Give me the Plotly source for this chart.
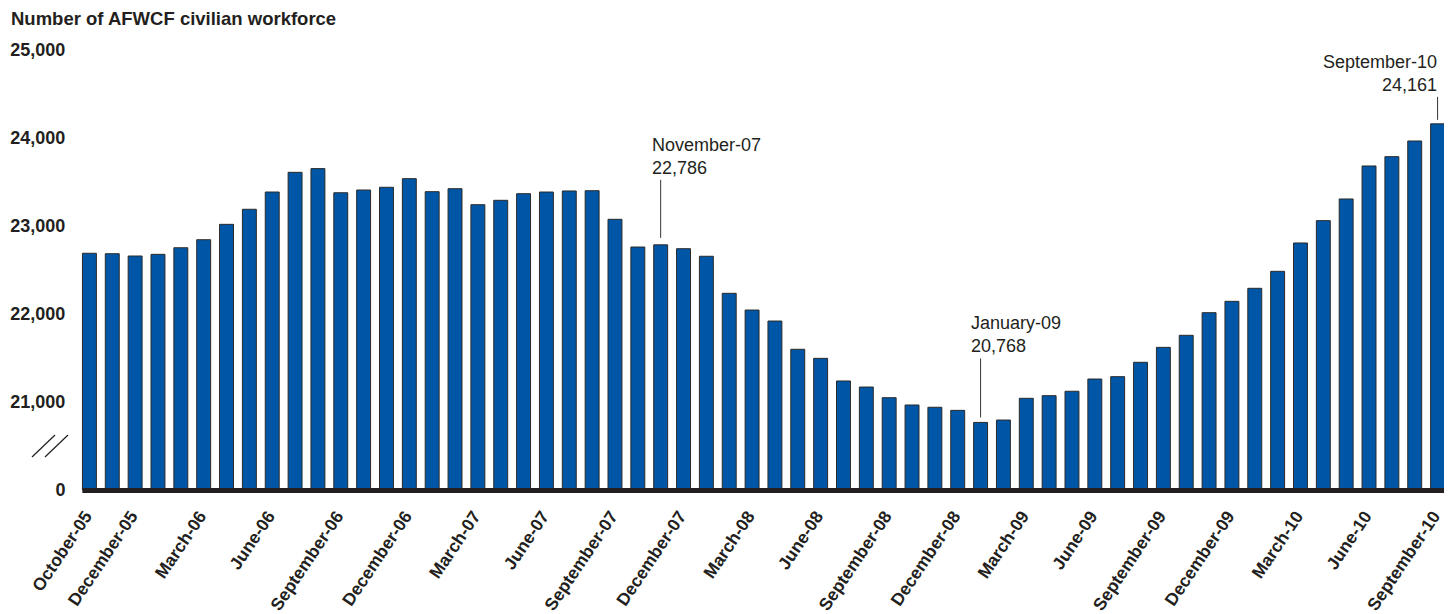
import plotly.graph_objects as go

# ---------------- data ----------------
months = [
    "October-05", "November-05", "December-05", "January-06", "February-06", "March-06",
    "April-06", "May-06", "June-06", "July-06", "August-06", "September-06",
    "October-06", "November-06", "December-06", "January-07", "February-07", "March-07",
    "April-07", "May-07", "June-07", "July-07", "August-07", "September-07",
    "October-07", "November-07", "December-07", "January-08", "February-08", "March-08",
    "April-08", "May-08", "June-08", "July-08", "August-08", "September-08",
    "October-08", "November-08", "December-08", "January-09", "February-09", "March-09",
    "April-09", "May-09", "June-09", "July-09", "August-09", "September-09",
    "October-09", "November-09", "December-09", "January-10", "February-10", "March-10",
    "April-10", "May-10", "June-10", "July-10", "August-10", "September-10",
]
workforce = [
    22690, 22685, 22659, 22678, 22753, 22844, 23019, 23190, 23386, 23610,
    23652, 23378, 23409, 23440, 23538, 23390, 23424, 23242, 23292, 23367,
    23386, 23398, 23401, 23076, 22761, 22786, 22742, 22656, 22235, 22045,
    21920, 21599, 21496, 21239, 21170, 21049, 20966, 20940, 20905, 20768,
    20795, 21042, 21072, 21122, 21261, 21288, 21451, 21621, 21758, 22015,
    22144, 22292, 22485, 22807, 23061, 23307, 23682, 23788, 23966, 24161,
]
x_tick_labels = [
    "October-05", "December-05", "March-06", "June-06", "September-06", "December-06",
    "March-07", "June-07", "September-07", "December-07", "March-08", "June-08",
    "September-08", "December-08", "March-09", "June-09", "September-09", "December-09",
    "March-10", "June-10", "September-10",
]
y_tick_values = [20000, 21000, 22000, 23000, 24000, 25000]
y_tick_labels = ["0", "21,000", "22,000", "23,000", "24,000", "25,000"]
callouts = ["November-07", "January-09", "September-10"]

# ---------------- figure ----------------
TXT = "#231f20"
FONT = "Liberation Sans, Arial, Helvetica, sans-serif"
xs = list(range(len(months)))

fig = go.Figure(
    go.Bar(
        x=xs,
        y=workforce,
        marker=dict(color="#0056a6", line=dict(color="#2a2a2a", width=1)),
        hovertext=months,
    )
)

# the page places the figure 8 px from the window's top-left corner
fig.update_layout(
    width=1444,
    height=606,
    paper_bgcolor="white",
    plot_bgcolor="white",
    margin=dict(l=70, r=3, t=42, b=124, autoexpand=False),
    bargap=0.39,
    showlegend=False,
    font=dict(family=FONT, color=TXT),
    xaxis=dict(
        range=[-0.5, len(months) - 0.5],
        tickmode="array",
        tickvals=[months.index(t) - 0.17 for t in x_tick_labels],
        ticktext=[f"<b>{t}</b>" for t in x_tick_labels],
        tickangle=-56,
        tickfont=dict(size=17.5, family=FONT, color=TXT),
        showgrid=False,
        zeroline=False,
        showline=False,
        ticks="outside",
        ticklen=8,
        tickcolor="rgba(0,0,0,0)",
        automargin=False,
    ),
    yaxis=dict(
        range=[y_tick_values[0], y_tick_values[-1]],
        tickmode="array",
        tickvals=y_tick_values,
        ticktext=[f"<b>{t}</b>" for t in y_tick_labels],
        tickfont=dict(size=18, family=FONT, color=TXT),
        showgrid=False,
        zeroline=False,
        showline=False,
        ticks="outside",
        ticklen=8,
        tickcolor="rgba(0,0,0,0)",
        automargin=False,
    ),
)

shapes = []
# thick baseline
shapes.append(dict(
    type="rect", xref="x", yref="paper", ysizemode="pixel", yanchor=0,
    x0=-0.31, x1=len(months) - 1 + 0.31, y0=2, y1=-3,
    fillcolor="#231f20", line=dict(width=0), layer="above",
))
# axis break slashes
for dx in (0, 13):
    shapes.append(dict(
        type="line", xref="paper", yref="paper",
        xsizemode="pixel", xanchor=0, ysizemode="pixel", yanchor=0,
        x0=-46 + dx, x1=-23 + dx, y0=33, y1=55,
        line=dict(color=TXT, width=1.2),
    ))

annotations = [dict(
    text="<b>Number of AFWCF civilian workforce</b>",
    xref="paper", yref="paper", x=0, y=1,
    xshift=-69, yshift=32,
    xanchor="left", yanchor="middle",
    showarrow=False,
    font=dict(size=18.5, family=FONT, color=TXT),
)]
callout_cfg = {
    "November-07": dict(side="left", gap=7, top=65, dx=-11),
    "January-09": dict(side="left", gap=5, top=64, dx=-12),
    "September-10": dict(side="right", gap=4, top=27, dx=1),
}
for name in callouts:
    i = months.index(name)
    v = workforce[i]
    cfg = callout_cfg[name]
    shapes.append(dict(
        type="line", xref="x", yref="y", ysizemode="pixel", yanchor=v,
        x0=i, x1=i, y0=cfg["gap"], y1=cfg["top"],
        line=dict(color="#333333", width=1),
    ))
    left = cfg["side"] == "left"
    annotations.append(dict(
        x=i, y=v, xref="x", yref="y",
        text=f"{name}<br>{v:,}",
        showarrow=False,
        xanchor="left" if left else "right",
        align="left" if left else "right",
        yanchor="bottom",
        xshift=cfg["dx"],
        yshift=cfg["top"],
        font=dict(size=18, family=FONT, color=TXT),
    ))

fig.update_layout(shapes=shapes, annotations=annotations)
fig.write_html("out.html")
